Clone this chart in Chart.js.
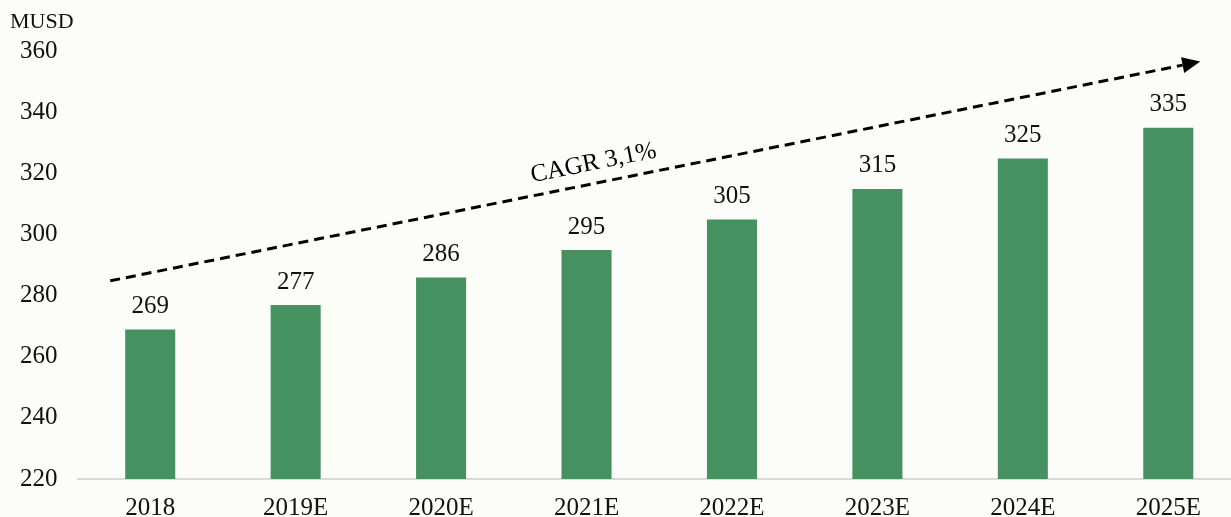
<!DOCTYPE html>
<html lang="en">
<head>
  <meta charset="UTF-8">
  <title>MUSD 2018-2025E</title>
  <script src="https://cdn.jsdelivr.net/npm/chart.js"></script>
  <style>
    html, body { margin: 0; padding: 0; background: #fcfcf8; overflow: hidden; }
    .wrap { position: relative; width: 1241px; height: 517px; }
    .unit {
      position: absolute; left: 10px; top: 8px;
      font-family: "Liberation Serif", serif; font-size: 22px; color: #111;
    }
  </style>
</head>
<body>
  <div class="wrap">
    <canvas id="chart" width="1241" height="517"></canvas>
    <div class="unit">MUSD</div>
  </div>

  <script>
    const years = ["2018", "2019E", "2020E", "2021E", "2022E", "2023E", "2024E", "2025E"];
    const musd = [269, 277, 286, 295, 305, 315, 325, 335];
    const yTicks = [220, 240, 260, 280, 300, 320, 340, 360];

    const SERIF = "'Liberation Serif', 'Times New Roman', serif";

    // values printed above each bar
    const barLabels = {
      id: "barLabels",
      afterDatasetsDraw(chart) {
        const ctx = chart.ctx;
        const meta = chart.getDatasetMeta(0);
        ctx.save();
        ctx.font = "25px " + SERIF;
        ctx.fillStyle = "#111";
        ctx.textAlign = "center";
        ctx.textBaseline = "middle";
        meta.data.forEach((bar, i) => {
          ctx.fillText(String(musd[i]), bar.x, bar.y - 23);
        });
        ctx.restore();
      }
    };

    // dashed CAGR arrow, given in data units (category index, value)
    const cagrArrow = {
      id: "cagrArrow",
      afterDatasetsDraw(chart, args, opts) {
        const xs = chart.scales.x, ys = chart.scales.y;
        const x0 = xs.getPixelForValue(opts.from[0]), y0 = ys.getPixelForValue(opts.from[1]);
        const x1 = xs.getPixelForValue(opts.to[0]), y1 = ys.getPixelForValue(opts.to[1]);
        const ang = Math.atan2(y1 - y0, x1 - x0);
        const head = 18;
        const ctx = chart.ctx;
        ctx.save();
        ctx.strokeStyle = "#000";
        ctx.lineWidth = 3;
        ctx.setLineDash([10, 6]);
        ctx.beginPath();
        ctx.moveTo(x0, y0);
        ctx.lineTo(x1 - head * Math.cos(ang), y1 - head * Math.sin(ang));
        ctx.stroke();
        ctx.setLineDash([]);
        ctx.fillStyle = "#000";
        ctx.beginPath();
        ctx.moveTo(x1, y1);
        ctx.lineTo(x1 - head * Math.cos(ang) + 8 * Math.sin(ang), y1 - head * Math.sin(ang) - 8 * Math.cos(ang));
        ctx.lineTo(x1 - head * Math.cos(ang) - 8 * Math.sin(ang), y1 - head * Math.sin(ang) + 8 * Math.cos(ang));
        ctx.closePath();
        ctx.fill();

        // label sits above the line
        const t = opts.labelAt;
        const lx = x0 + (x1 - x0) * t + Math.sin(ang) * opts.labelOffset;
        const ly = y0 + (y1 - y0) * t - Math.cos(ang) * opts.labelOffset;
        ctx.translate(lx, ly);
        ctx.rotate(ang);
        ctx.font = "25px " + SERIF;
        ctx.textAlign = "center";
        ctx.textBaseline = "middle";
        ctx.fillText(opts.text, 0, 0);
        ctx.restore();
      }
    };

    new Chart(document.getElementById("chart"), {
      type: "bar",
      data: {
        labels: years,
        datasets: [{
          data: musd,
          backgroundColor: "#45915f",
          categoryPercentage: 1,
          barPercentage: 0.344
        }]
      },
      options: {
        responsive: false,
        animation: false,
        layout: { padding: { top: 51.5, right: 0, left: 0, bottom: 0 } },
        plugins: {
          legend: { display: false },
          tooltip: { enabled: false },
          cagrArrow: {
            from: [-0.275, 284.9],
            to: [7.22, 356.7],
            text: "CAGR 3,1%",
            labelAt: 0.447,
            labelOffset: 20
          }
        },
        scales: {
          x: {
            grid: { display: false, drawTicks: false },
            border: { display: true, color: "#d9d9d9", width: 2 },
            ticks: { color: "#111", font: { family: SERIF, size: 25 }, padding: 14 },
            afterFit(scale) { scale.height = 38; }
          },
          y: {
            min: 220,
            max: 360,
            grid: { display: false, drawTicks: false },
            border: { display: false },
            afterBuildTicks(scale) { scale.ticks = yTicks.map(v => ({ value: v })); },
            ticks: { color: "#111", font: { family: SERIF, size: 25 }, padding: 20 },
            afterFit(scale) { scale.width = 77.5; }
          }
        }
      },
      plugins: [barLabels, cagrArrow]
    });
  </script>
</body>
</html>
